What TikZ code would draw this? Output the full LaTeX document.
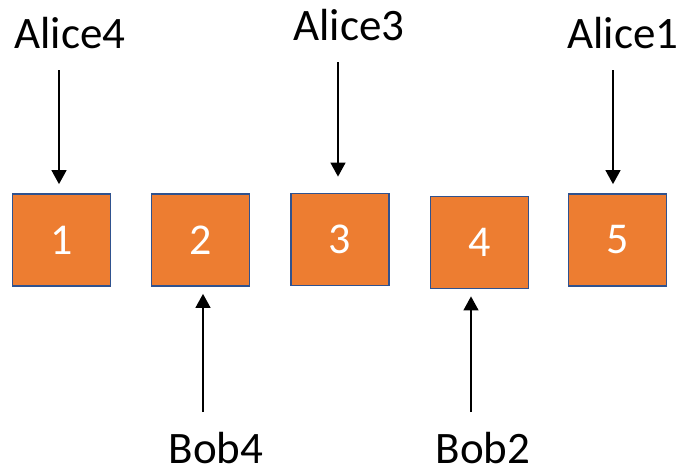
\documentclass[tikz,border=0pt]{standalone}
\usepackage{fontspec}
\setmainfont{Carlito}
\usetikzlibrary{arrows.meta}
\definecolor{boxfill}{HTML}{ED7D31}
\definecolor{boxline}{HTML}{2F528F}

\begin{document}
\begin{tikzpicture}[x=1pt, y=-1pt,
        main/.style = {draw=boxline, fill=boxfill, line width=1.8pt, minimum width=98pt, minimum height=92pt, text=white, font=\fontsize{44}{52}\selectfont},
        lbl/.style = {anchor=base, inner sep=0pt, font=\fontsize{45}{54}\selectfont},
        arr/.style = {line width=1.4pt, -{Triangle[width=15pt,length=14pt]}}]
        \useasboundingbox (0,0) rectangle (684,471);

        \node[main] (1) at (61.5,240) {1};
        \node[main] (2) at (200.5,240) {2};
        \node[main] (3) at (340,239.5) {3};
        \node[main] (4) at (479.5,242.5) {4};
        \node[main] (5) at (617.5,240) {5};

        \node[lbl] (a4) at (70,48) {Alice4};
        \node[lbl] (a3) at (349,40) {Alice3};
        \node[lbl] (a1) at (623,48) {Alice1};
        \node[lbl] (b4) at (216,463) {Bob4};
        \node[lbl] (b2) at (483,463) {Bob2};

        \coordinate (s1) at (59,70);
        \coordinate (s3) at (338,62);
        \coordinate (s5) at (613,70);
        \coordinate (s2) at (203,412);
        \coordinate (s4) at (471,412);

        \draw[arr, shorten >=9pt] (s1) -- (s1 |- 1.north);
        \draw[arr, shorten >=16pt] (s3) -- (s3 |- 3.north);
        \draw[arr, shorten >=9pt] (s5) -- (s5 |- 5.north);
        \draw[arr, shorten >=7pt] (s2) -- (s2 |- 2.south);
        \draw[arr, shorten >=7pt] (s4) -- (s4 |- 4.south);

    \end{tikzpicture}
\end{document}
